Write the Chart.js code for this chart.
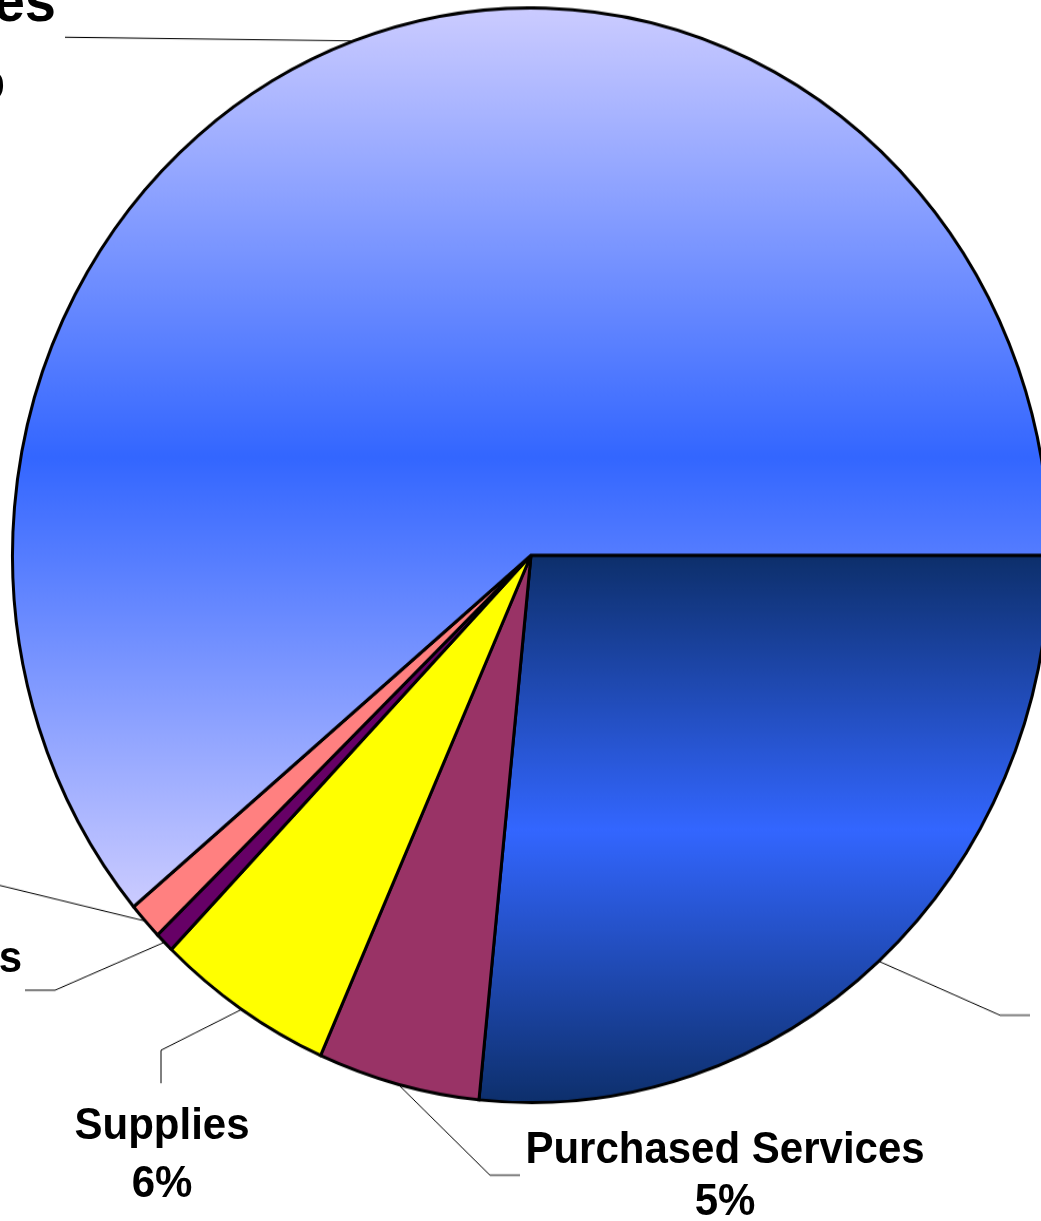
<!DOCTYPE html>
<html lang="en">
<head>
<meta charset="UTF-8">
<title>Expenditures by Object</title>
<script src="https://cdn.jsdelivr.net/npm/chart.js"></script>
<style>
    html, body { margin: 0; padding: 0; background: #fff; overflow: hidden; }
    body { width: 1041px; height: 1221px; position: relative; font-family: 'Liberation Sans', Arial, sans-serif; }
    #stage { position: absolute; left: 0; top: 0; width: 1041px; height: 1157px; transform: scaleY(1.0556); transform-origin: 0 0; }
    #pieBox { position: absolute; left: -9px; top: 5.8px; width: 1060px; height: 1170px; }
    .lbl { position: absolute; font-weight: bold; white-space: nowrap; color: #000; text-align: center; }
</style>
</head>
<body>
<div id="stage">
    <div id="pieBox"><canvas id="pie" width="1060" height="1170"></canvas></div>
</div>
<script>
// slices, clockwise from 3 o'clock
const categories = ['Benefits', 'Purchased Services', 'Supplies', 'Other Objects', 'Property', 'Salaries'];
const shares = [26.6, 5.05, 5.55, 0.6, 1.1, 61.1];
const fillColors = ['#0d2f6b', '#993366', '#ffff00', '#660066', '#ff8080', '#ccccff'];
const gradientEnds = ['#0d2f6b', null, null, null, null, '#ccccff'];
const gradientMid = '#3366ff';

const K = 1.0556;           // vertical stretch of the whole picture
const BOX_LEFT = -9, BOX_TOP = 5.8;

// label placement (page px): baseline of first line, line height, font size
const labelPos = [
    { cx: 1140, base: 975, lh: 55, fs: 42 },
    { cx: 725, base: 1163, lh: 52, fs: 42 },
    { cx: 162, base: 1140, lh: 58, fs: 42 },
    { right: 22, base: 973, lh: 58, fs: 42 },
    { right: -30, base: 860, lh: 58, fs: 42 },
    { right: 56, base: 21, lh: 78, fs: 56 }
];
// leader elbows (page px), starting from slice edge
const leaderPts = [
    [[1000, 1015], [1030, 1015]],
    [[490, 1175], [520, 1175]],
    [[161, 1050], [161, 1083]],
    [[55, 990], [25, 990]],
    [[-5, 884]],
    [[65, 37]]
];

function toCanvas(p) {
    return [p[0] - BOX_LEFT, p[1] / K - BOX_TOP];
}

function sliceFill(ctx) {
    const i = ctx.dataIndex;
    const area = ctx.chart.chartArea;
    if (!area || !gradientEnds[i]) return fillColors[i];
    const cy = (area.top + area.bottom) / 2;
    const r = Math.min(area.width, area.height) / 2;
    const total = shares.reduce((a, b) => a + b, 0);
    let before = 0;
    for (let j = 0; j < i; j++) before += shares[j];
    const a0 = before / total * Math.PI * 2;
    const a1 = (before + shares[i]) / total * Math.PI * 2;
    let ys = [cy, cy + r * Math.sin(a0), cy + r * Math.sin(a1)];
    if (a0 <= Math.PI / 2 && a1 >= Math.PI / 2) ys.push(cy + r);
    if (a0 <= Math.PI * 1.5 && a1 >= Math.PI * 1.5) ys.push(cy - r);
    const g = ctx.chart.ctx.createLinearGradient(0, Math.min(...ys), 0, Math.max(...ys));
    g.addColorStop(0, gradientEnds[i]);
    g.addColorStop(0.5, gradientMid);
    g.addColorStop(1, gradientEnds[i]);
    return g;
}

const leaderLines = {
    id: 'leaderLines',
    afterDraw(chart) {
        const c = chart.ctx;
        const arcs = chart.getDatasetMeta(0).data;
        c.save();
        arcs.forEach((arc, i) => {
            const mid = (arc.startAngle + arc.endAngle) / 2;
            const R = arc.outerRadius;
            let pts = [[arc.x + R * Math.cos(mid), arc.y + R * Math.sin(mid)]];
            leaderPts[i].forEach(p => pts.push(toCanvas(p)));
            for (let k = 1; k < pts.length; k++) {
                const flat = Math.abs(pts[k][1] - pts[k - 1][1]) < 0.5;
                c.strokeStyle = flat && k > 1 ? '#808080' : '#000';
                c.lineWidth = flat && k > 1 ? 2 : 1;
                c.beginPath();
                c.moveTo(pts[k - 1][0], pts[k - 1][1]);
                c.lineTo(pts[k][0], pts[k][1]);
                c.stroke();
            }
        });
        c.restore();
    }
};

new Chart(document.getElementById('pie'), {
    type: 'pie',
    data: {
        labels: categories,
        datasets: [{
            data: shares,
            backgroundColor: sliceFill,
            borderColor: '#000',
            borderWidth: 3,
            borderJoinStyle: 'miter'
        }]
    },
    options: {
        responsive: false,
        animation: false,
        rotation: 90,
        layout: { padding: { left: 20, bottom: 130 } },
        plugins: { legend: { display: false }, tooltip: { enabled: false } }
    },
    plugins: [leaderLines]
});

// text labels
const stage = document.getElementById('stage');
categories.forEach((name, i) => {
    const pos = labelPos[i];
    const lh = pos.lh / K;
    const div = document.createElement('div');
    div.className = 'lbl';
    div.style.fontSize = pos.fs + 'px';
    div.style.lineHeight = lh + 'px';
    div.style.top = (pos.base / K - (lh / 2 + 0.3465 * pos.fs)) + 'px';
    if (pos.cx !== undefined) {
        div.style.left = pos.cx + 'px';
        div.style.transform = 'translateX(-50%)';
    } else {
        div.style.right = (1041 - pos.right) + 'px';
    }
    const l1 = document.createElement('div');
    l1.textContent = name;
    const l2 = document.createElement('div');
    l2.textContent = Math.round(shares[i]) + '%';
    div.appendChild(l1);
    div.appendChild(l2);
    stage.appendChild(div);
});
</script>
</body>
</html>
